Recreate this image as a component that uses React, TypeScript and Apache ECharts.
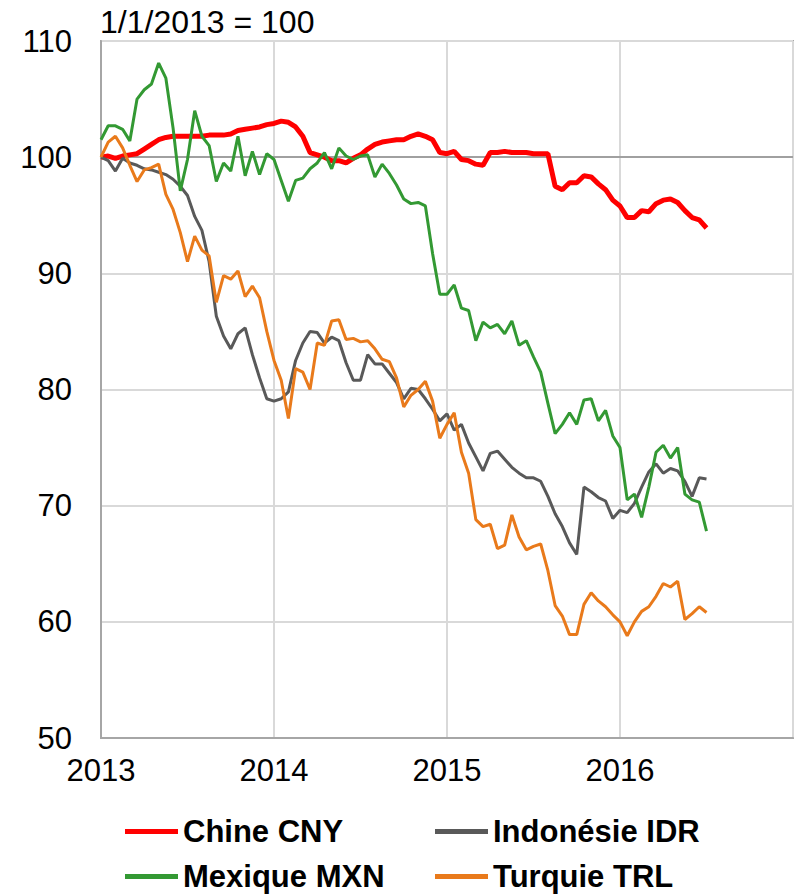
import React, { useEffect, useRef } from "react";
import * as echarts from "echarts";

// Half-month sampling points, from 1 Jan 2013 to end of June 2016 (decimal years)
const DATES: number[] = Array.from({ length: 85 }, (_, i) => 2013 + i / 24);

const YEAR_TICKS = [2013, 2014, 2015, 2016, 2017];

const CNY = [
  100.0, 100.1, 99.9, 100.1, 100.2, 100.3, 100.7, 101.1, 101.5, 101.7,
  101.8, 101.8, 101.8, 101.8, 101.8, 101.9, 101.9, 101.9, 102.0, 102.3,
  102.4, 102.5, 102.6, 102.8, 102.9, 103.1, 103.0, 102.6, 101.8, 100.4,
  100.2, 100.0, 99.7, 99.7, 99.5, 99.9, 100.2, 100.7, 101.1, 101.3,
  101.4, 101.5, 101.5, 101.8, 102.0, 101.8, 101.5, 100.4, 100.3, 100.5,
  99.8, 99.7, 99.4, 99.3, 100.4, 100.4, 100.5, 100.4, 100.4, 100.4,
  100.3, 100.3, 100.3, 97.5, 97.2, 97.8, 97.8, 98.4, 98.3, 97.7,
  97.2, 96.3, 95.8, 94.8, 94.8, 95.4, 95.3, 96.0, 96.3, 96.4,
  96.1, 95.4, 94.8, 94.6, 93.9,
];

const IDR = [
  100.0, 99.7, 98.8, 99.9, 99.5, 99.3, 99.0, 98.9, 98.7, 98.5,
  98.1, 97.5, 96.7, 94.9, 93.7, 91.0, 86.3, 84.6, 83.5, 84.8,
  85.3, 83.0, 81.0, 79.2, 79.0, 79.2, 79.8, 82.5, 84.0, 85.0,
  84.9, 84.0, 84.5, 84.2, 82.3, 80.8, 80.8, 83.0, 82.2, 82.2,
  81.4, 80.6, 79.2, 80.1, 80.0, 79.2, 78.3, 77.3, 77.9, 76.5,
  77.0, 75.4, 74.2, 73.0, 74.5, 74.7, 74.0, 73.3, 72.8, 72.4,
  72.4, 72.1, 70.8, 69.3, 68.2, 66.8, 65.8, 71.6, 71.2, 70.7,
  70.4, 68.9, 69.6, 69.4, 70.2, 71.6, 72.9, 73.6, 72.8, 73.2,
  73.0, 72.1, 70.8, 72.4, 72.3,
];

const MXN = [
  101.5, 102.7, 102.7, 102.4, 101.4, 105.0, 105.8, 106.3, 108.1, 106.8,
  102.5, 97.1, 99.8, 104.0, 101.8, 101.0, 97.9, 99.5, 98.8, 101.8,
  98.4, 100.5, 98.5, 100.3, 99.8, 98.0, 96.2, 98.0, 98.2, 99.0,
  99.5, 100.4, 99.0, 100.8, 100.1, 99.8, 100.1, 100.2, 98.3, 99.4,
  98.6, 97.6, 96.4, 96.0, 96.1, 95.8, 91.7, 88.2, 88.2, 89.0,
  87.0, 86.8, 84.2, 85.8, 85.3, 85.6, 84.8, 85.9, 83.8, 84.2,
  82.8, 81.5, 78.8, 76.2, 77.0, 78.0, 77.0, 79.1, 79.2, 77.3,
  78.2, 76.0, 75.0, 70.5, 71.0, 69.0, 71.6, 74.6, 75.2, 74.1,
  75.0, 71.0, 70.5, 70.3, 67.8,
];

const TRL = [
  100.0, 101.3, 101.8, 100.8, 99.3, 97.9, 98.9, 99.1, 99.4, 96.8,
  95.5, 93.5, 91.0, 93.2, 92.0, 91.5, 87.5, 89.8, 89.5, 90.2,
  88.0, 88.9, 87.9, 85.0, 82.5, 80.8, 77.5, 81.8, 81.5, 80.0,
  84.0, 83.8, 85.9, 86.0, 84.3, 84.4, 84.1, 84.2, 83.5, 82.6,
  82.4, 81.0, 78.5, 79.5, 80.0, 80.7, 79.0, 75.8, 77.0, 78.0,
  74.6, 72.8, 68.8, 68.2, 68.4, 66.3, 66.6, 69.2, 67.3, 66.2,
  66.5, 66.7, 64.4, 61.4, 60.5, 58.9, 58.9, 61.5, 62.5, 61.8,
  61.3, 60.6, 60.0, 58.8, 60.0, 60.9, 61.3, 62.2, 63.3, 63.0,
  63.5, 60.2, 60.7, 61.3, 60.8,
];

const SERIES_NAMES = ["Chine CNY", "Indonésie IDR", "Mexique MXN", "Turquie TRL"];
const COLORS = ["#FF0000", "#595959", "#339933", "#E97A1B"];
const WIDTHS = [5, 3, 3, 3];
const VALUES = [CNY, IDR, MXN, TRL];

const FONT = "'Liberation Sans', Arial, sans-serif";

export default function App() {
  const ref = useRef<HTMLDivElement>(null);

  useEffect(() => {
    document.body.style.margin = "0";
    if (!ref.current) return;
    const chart = echarts.init(ref.current, undefined, { renderer: "svg" });

    const series: any[] = SERIES_NAMES.map((name, k) => ({
      name,
      type: "line",
      data: DATES.map((d, i) => [d, VALUES[k][i]]),
      showSymbol: false,
      symbol: "none",
      lineStyle: { color: COLORS[k], width: WIDTHS[k] },
      itemStyle: { color: COLORS[k] },
      z: 3 + k,
    }));
    series[0].markLine = {
      silent: true,
      symbol: "none",
      label: { show: false },
      lineStyle: { color: "#A0A0A0", width: 2, type: "solid" },
      data: [{ yAxis: 100 }],
      z: 2,
    };

    const legendCommon = {
      orient: "vertical",
      top: 816,
      height: 80,
      padding: 0,
      itemWidth: 53,
      itemHeight: 5,
      itemGap: 14,
      icon: "rect",
      textStyle: {
        fontFamily: FONT,
        fontSize: 31,
        fontWeight: "bold",
        color: "#000",
        lineHeight: 30,
      },
    };

    chart.setOption({
      animation: false,
      backgroundColor: "#fff",
      grid: {
        left: 101,
        right: 1,
        top: 41,
        bottom: 158,
        show: true,
        borderColor: "#A6A6A6",
        borderWidth: 2,
        containLabel: false,
      },
      xAxis: {
        type: "value",
        min: YEAR_TICKS[0],
        max: YEAR_TICKS[YEAR_TICKS.length - 1],
        interval: 1,
        axisLine: { show: true, lineStyle: { color: "#A6A6A6", width: 2 } },
        axisTick: { show: false },
        axisLabel: {
          margin: 17,
          fontFamily: FONT,
          fontSize: 31,
          color: "#000",
          showMaxLabel: false,
          formatter: (v: number) => String(v),
        },
        splitLine: { show: true, lineStyle: { color: "#D9D9D9", width: 2 } },
      },
      yAxis: {
        type: "value",
        min: 50,
        max: 110,
        interval: 10,
        axisLine: { show: true, lineStyle: { color: "#A6A6A6", width: 2 } },
        axisTick: { show: false },
        axisLabel: {
          margin: 29,
          fontFamily: FONT,
          fontSize: 31,
          color: "#000",
        },
        splitLine: { show: true, lineStyle: { color: "#D9D9D9", width: 2 } },
      },
      legend: [
        { ...legendCommon, left: 125, data: [SERIES_NAMES[0], SERIES_NAMES[2]] },
        { ...legendCommon, left: 435, data: [SERIES_NAMES[1], SERIES_NAMES[3]] },
      ],
      graphic: [
        {
          type: "text",
          left: 100,
          top: 6,
          style: {
            text: "1/1/2013 = 100",
            fontFamily: FONT,
            fontSize: 32,
            fill: "#000",
          },
        },
      ],
      series,
    });

    return () => chart.dispose();
  }, []);

  return <div ref={ref} style={{ width: 794, height: 896 }} />;
}
